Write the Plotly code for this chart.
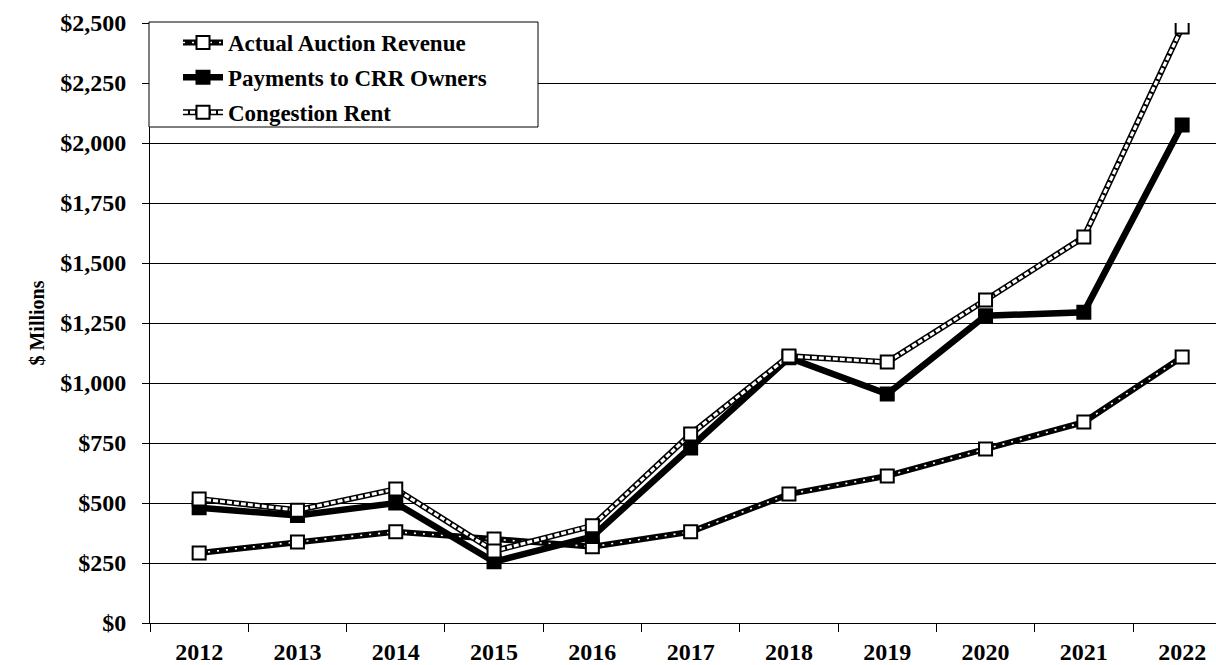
import plotly.graph_objects as go

# Annual totals, $ millions
years = ["2012", "2013", "2014", "2015", "2016", "2017",
         "2018", "2019", "2020", "2021", "2022"]
auction_revenue = [292, 338, 380, 350, 318, 380, 537, 613, 725, 837, 1108]
payments_crr = [480, 448, 500, 255, 360, 729, 1105, 954, 1280, 1295, 2075]
congestion_rent = [517, 470, 558, 300, 405, 787, 1112, 1087, 1346, 1608, 2483]
y_ticks = list(range(0, 2501, 250))
y_tick_text = ["${:,}".format(v) for v in y_ticks]

SERIF = "Liberation Serif, Times New Roman, serif"
W, H = 1216, 665
M_L, M_R, M_T, M_B = 150, 0, 23, 42
PLOT_W = W - M_L - M_R
PLOT_H = H - M_T - M_B

fig = go.Figure()


def add_series(name, values, tag, under_width, over_line, marker_fill):
    # Dark body of the line, shown in the lower legend
    fig.add_trace(go.Scatter(
        x=years, y=values, name=name, mode="lines",
        line=dict(color="black", width=under_width),
        legend="legend", legendgroup=tag + "_body",
        hoverinfo="skip",
    ))
    # Inner stroke and square markers, shown in the upper legend
    fig.add_trace(go.Scatter(
        x=years, y=values, name=name, mode="lines+markers",
        line=over_line,
        marker=dict(symbol="square", size=13, color=marker_fill,
                    line=dict(color="black", width=2)),
        legend="legend2", legendgroup=tag + "_face",
    ))


add_series("Actual Auction Revenue", auction_revenue, "arev", 6,
           dict(color="white", width=1.6, dash="2px,7px"), "white")
add_series("Payments to CRR Owners", payments_crr, "pay", 6.5,
           dict(color="black", width=2), "black")
add_series("Congestion Rent", congestion_rent, "rent", 6,
           dict(color="white", width=3, dash="5px,2px"), "white")

# Frame behind the legend entries
fig.add_shape(type="rect", xref="paper", yref="paper", layer="above",
              x0=(149 - M_L) / PLOT_W, x1=(538 - M_L) / PLOT_W,
              y0=(H - M_B - 127) / PLOT_H, y1=(H - M_B - 22) / PLOT_H,
              fillcolor="white", line=dict(color="black", width=1))

legend_common = dict(
    x=(178 - M_L) / PLOT_W, xanchor="left",
    y=1 + 2 / PLOT_H, yanchor="top",
    bgcolor="rgba(0,0,0,0)", borderwidth=0,
    itemwidth=40, traceorder="grouped", tracegroupgap=2,
)

fig.update_layout(
    width=W, height=H,
    margin=dict(l=M_L, r=M_R, t=M_T, b=M_B, pad=0),
    paper_bgcolor="white", plot_bgcolor="white",
    font=dict(family=SERIF, size=24, color="black", weight="bold"),
    showlegend=True,
    legend=dict(**legend_common,
                font=dict(family=SERIF, size=23, color="black", weight="bold")),
    legend2=dict(**legend_common,
                 font=dict(family=SERIF, size=23, color="rgba(0,0,0,0)", weight="bold")),
    xaxis=dict(
        type="category", range=[-0.5, -0.5 + PLOT_W / 98.3],
        tickson="boundaries", ticks="outside", ticklen=8, tickcolor="black",
        showline=True, linecolor="black", linewidth=1,
        showgrid=False, zeroline=False, ticklabelstandoff=7,
        tickfont=dict(family=SERIF, size=24, weight="bold"),
    ),
    yaxis=dict(
        range=[0, 2500], tickvals=y_ticks, ticktext=y_tick_text,
        ticks="outside", ticklen=7, tickcolor="black",
        showline=True, linecolor="black", linewidth=1,
        showgrid=True, gridcolor="black", gridwidth=1, zeroline=False,
        ticklabelstandoff=11,
        tickfont=dict(family=SERIF, size=24, weight="bold"),
        title=dict(text="$ Millions", standoff=10,
                   font=dict(family=SERIF, size=20, weight="bold")),
    ),
)

fig.write_html("out.html")
